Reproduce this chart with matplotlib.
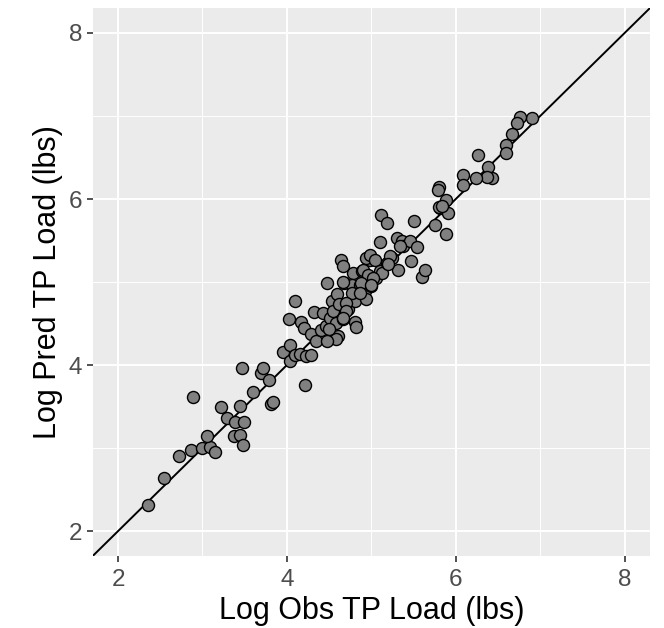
import matplotlib
matplotlib.use('Agg')
import matplotlib.pyplot as plt
from matplotlib.ticker import MultipleLocator

obs_tp = [
    2.35, 2.55, 2.72, 2.86, 2.89, 2.99, 3.09, 3.15, 3.05, 3.22,
    3.29, 3.38, 3.44, 3.49, 3.37, 3.44, 3.48, 3.47, 3.60, 3.69,
    3.72, 3.79, 3.81, 3.83, 4.21, 3.95, 4.04, 4.04, 4.09, 4.15,
    4.23, 4.29, 4.02, 4.09, 4.17, 4.20, 4.32, 4.43, 4.29, 4.34,
    4.40, 4.46, 4.51, 4.47, 4.53, 4.59, 4.54, 4.62, 4.58, 4.61,
    4.58, 4.66, 4.68, 4.78, 4.77, 4.64, 4.66, 4.72, 4.81, 4.81,
    4.82, 4.87, 4.89, 4.92, 4.94, 4.96, 5.00, 4.99, 4.94, 4.99,
    5.04, 5.06, 5.10, 5.13, 5.12, 5.18, 5.10, 5.18, 5.24, 5.30,
    5.36, 5.37, 5.31, 5.46, 5.50, 5.54, 5.47, 5.60, 5.64, 5.75,
    5.81, 5.88, 5.91, 6.90, 6.76, 6.73, 6.67, 6.59, 6.60, 6.26,
    6.38, 6.43, 6.37, 6.24, 6.09, 6.08, 5.80, 5.79, 5.88, 5.80,
    5.84, 5.34, 5.22, 5.20, 4.90, 4.96, 5.02, 4.67, 4.88, 5.00,
    4.77, 4.87, 4.70, 4.70, 4.66, 4.50, 4.47,
]
pred_tp = [
    2.31, 2.64, 2.90, 2.98, 3.61, 3.00, 3.01, 2.95, 3.15, 3.49,
    3.36, 3.32, 3.51, 3.32, 3.14, 3.16, 3.04, 3.96, 3.67, 3.90,
    3.97, 3.82, 3.53, 3.56, 3.76, 4.16, 4.24, 4.05, 4.12, 4.13,
    4.11, 4.12, 4.55, 4.77, 4.52, 4.45, 4.64, 4.63, 4.37, 4.29,
    4.42, 4.47, 4.57, 4.99, 4.77, 4.85, 4.65, 4.73, 4.51, 4.35,
    4.31, 4.55, 4.99, 5.11, 4.97, 5.27, 5.19, 4.67, 4.77, 4.52,
    4.46, 4.97, 5.13, 4.89, 4.79, 5.01, 4.95, 5.27, 5.29, 5.33,
    5.27, 5.05, 5.13, 5.11, 5.81, 5.71, 5.48, 5.23, 5.29, 5.53,
    5.49, 5.43, 5.14, 5.49, 5.73, 5.42, 5.25, 5.06, 5.14, 5.69,
    5.89, 5.58, 5.83, 6.98, 6.99, 6.91, 6.78, 6.65, 6.55, 6.53,
    6.39, 6.25, 6.27, 6.25, 6.29, 6.17, 6.14, 6.11, 5.99, 5.90,
    5.91, 5.43, 5.31, 5.22, 5.15, 5.09, 5.05, 5.00, 4.99, 4.97,
    4.87, 4.87, 4.75, 4.65, 4.57, 4.43, 4.29,
]
axis_lim = [1.7, 8.3]
ticks = [2, 4, 6, 8]

plt.rcParams['font.family'] = ['Liberation Sans', 'DejaVu Sans']

fig = plt.figure(figsize=(6.64, 6.28), dpi=100)
ax = fig.add_axes([0.1396, 0.1146, 0.8393, 0.8726])
ax.set_facecolor('#EBEBEB')

# ggplot-like grid
ax.xaxis.set_minor_locator(MultipleLocator(1))
ax.yaxis.set_minor_locator(MultipleLocator(1))
ax.grid(which='major', color='white', linewidth=1.4)
ax.grid(which='minor', color='white', linewidth=0.7)
ax.set_axisbelow(True)
for s in ax.spines.values():
    s.set_visible(False)

# 1:1 line across the whole panel
ax.plot(axis_lim, axis_lim, color='black', linewidth=1.4, zorder=2)

ax.scatter(obs_tp, pred_tp, s=75, facecolor='#808080', edgecolor='black',
           linewidth=1.0, zorder=3)

ax.set_xlim(axis_lim)
ax.set_ylim(axis_lim)
ax.set_xticks(ticks)
ax.set_yticks(ticks)
ax.tick_params(which='major', length=4.5, width=1.2, color='#333333',
               labelcolor='#4D4D4D', labelsize=17.5, pad=3)
ax.tick_params(axis='x', which='major', pad=5)
ax.tick_params(which='minor', length=0)

ax.set_xlabel('Log Obs TP Load (lbs)', fontsize=22, labelpad=3.5)
ax.set_ylabel('Log Pred TP Load (lbs)', fontsize=22, labelpad=4)

fig.savefig('out.png', dpi=100)
